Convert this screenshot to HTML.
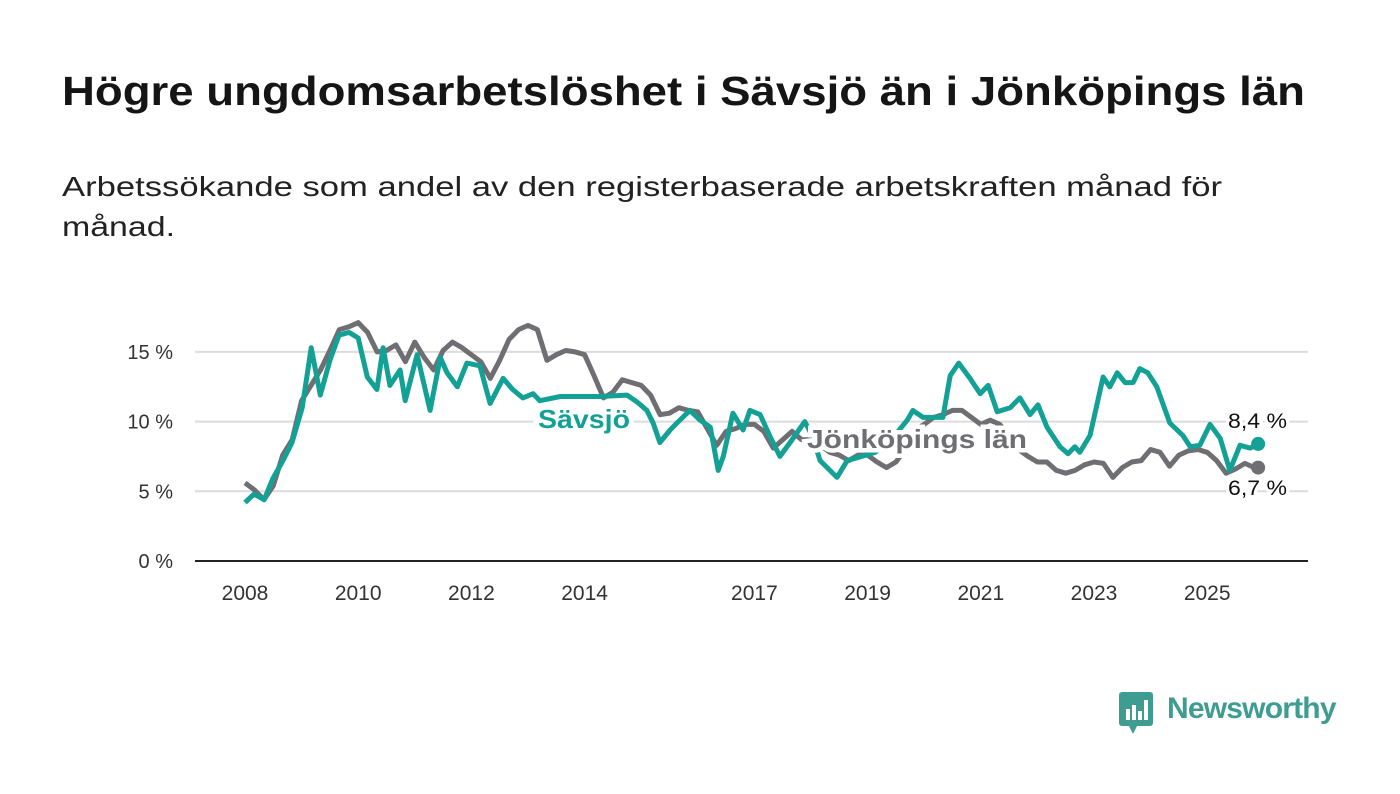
<!DOCTYPE html>
<html><head><meta charset="utf-8"><style>
body{margin:0;width:1400px;height:794px;background:#fff;font-family:"Liberation Sans",sans-serif;overflow:hidden;position:relative}
svg{position:absolute;left:0;top:0}
</style></head><body>
<svg id="chart" width="1400" height="794">
<text x="62" y="105" font-size="41" font-weight="bold" fill="#151515" textLength="1243" lengthAdjust="spacingAndGlyphs" font-family="Liberation Sans">Högre ungdomsarbetslöshet i Sävsjö än i Jönköpings län</text>
<text x="62" y="196" font-size="28" fill="#222" textLength="1160" lengthAdjust="spacingAndGlyphs" font-family="Liberation Sans">Arbetssökande som andel av den registerbaserade arbetskraften månad för</text>
<text x="62" y="236" font-size="28" fill="#222" textLength="113" lengthAdjust="spacingAndGlyphs" font-family="Liberation Sans">månad.</text>
</svg>
<script>
const yTicks=[0,5,10,15];
const yTickLabels=["0 %","5 %","10 %","15 %"];
const xTicks=[2008,2010,2012,2014,2017,2019,2021,2023,2025];
const grayStart=2008;
const grayValues=[5.6,5.1,4.4,5.4,7.6,8.7,11.5,12.6,13.7,15.1,16.6,16.8,17.1,16.4,15.0,15.1,15.5,14.3,15.7,14.6,13.7,15.1,15.7,15.3,14.8,14.3,13.1,14.4,15.9,16.6,16.9,16.6,14.4,14.8,15.1,15.0,14.8,13.3,11.7,12.1,13.0,12.8,12.6,11.9,10.5,10.6,11.0,10.8,10.7,9.5,8.3,9.3,9.5,9.8,9.8,9.3,8.1,8.7,9.3,8.7,8.7,8.3,7.8,7.6,7.2,7.6,7.6,7.1,6.7,7.1,8.0,9.4,9.8,10.3,10.5,10.8,10.8,10.3,9.8,10.1,9.8,9.0,8.0,7.5,7.1,7.1,6.5,6.3,6.5,6.9,7.1,7.0,6.0,6.7,7.1,7.2,8.0,7.8,6.8,7.6,7.9,8.0,7.8,7.2,6.3,6.6,7.0,6.7];
const tealYears=[2008.0,2008.16,2008.34,2008.49,2008.67,2008.83,2009.01,2009.17,2009.33,2009.5,2009.66,2009.84,2010.0,2010.16,2010.33,2010.44,2010.56,2010.74,2010.83,2011.04,2011.27,2011.45,2011.57,2011.75,2011.92,2012.15,2012.33,2012.56,2012.73,2012.91,2013.09,2013.21,2013.57,2013.92,2014.27,2014.75,2014.93,2015.1,2015.21,2015.33,2015.51,2015.63,2015.86,2016.04,2016.22,2016.36,2016.45,2016.62,2016.8,2016.92,2017.1,2017.28,2017.45,2017.63,2017.89,2018.02,2018.16,2018.46,2018.64,2018.81,2019.13,2019.4,2019.7,2019.8,2019.98,2020.1,2020.33,2020.46,2020.61,2020.81,2020.99,2021.13,2021.29,2021.52,2021.69,2021.87,2022.01,2022.17,2022.4,2022.54,2022.66,2022.75,2022.93,2023.16,2023.28,2023.41,2023.55,2023.69,2023.81,2023.95,2024.11,2024.34,2024.57,2024.7,2024.87,2025.05,2025.23,2025.4,2025.58,2025.76,2025.9];
const tealValues=[4.2,4.8,4.4,5.9,7.2,8.5,11.0,15.3,11.9,14.4,16.2,16.4,16.0,13.2,12.3,15.3,12.6,13.7,11.5,14.8,10.8,14.6,13.5,12.5,14.2,14.0,11.3,13.1,12.3,11.7,12.0,11.5,11.8,11.8,11.8,11.9,11.4,10.8,9.9,8.5,9.4,9.9,10.8,10.1,9.6,6.5,7.5,10.6,9.4,10.8,10.5,8.9,7.5,8.5,10.0,9.0,7.2,6.0,7.2,7.4,7.8,8.6,10.1,10.8,10.3,10.3,10.3,13.3,14.2,13.1,12.0,12.6,10.7,11.0,11.7,10.5,11.2,9.6,8.2,7.7,8.2,7.8,9.0,13.2,12.5,13.5,12.8,12.8,13.8,13.5,12.5,9.9,9.0,8.2,8.3,9.8,8.8,6.5,8.3,8.1,8.4];
const X=y=>245+(y-2008)*56.6;
const Y=v=>561-v*13.94;
const svg=document.getElementById('chart');
const NS='http://www.w3.org/2000/svg';
function mk(t,a){const e=document.createElementNS(NS,t);for(const k in a)e.setAttribute(k,a[k]);svg.appendChild(e);return e;}
yTicks.forEach((v,i)=>{
  if(v>0){const g=mk('line',{x1:195,x2:1308,y1:Y(v),y2:Y(v),stroke:'#dcdcdc','stroke-width':2});
  
  }
  const t=mk('text',{x:173,y:Y(v)+7,'text-anchor':'end','font-size':20,fill:'#333','font-family':'Liberation Sans'});
  t.textContent=yTickLabels[i];
  
  
});
const ax=mk('line',{x1:195,x2:1308,y1:Y(0),y2:Y(0),stroke:'#222','stroke-width':2});


xTicks.forEach(y=>{
  const t=mk('text',{x:X(y),y:600,'text-anchor':'middle','font-size':21,fill:'#333','font-family':'Liberation Sans'});
  t.textContent=y;
  
  
});
const gp=grayValues.map((v,i)=>X(grayStart+i/6).toFixed(1)+','+Y(v).toFixed(1)).join(' ');
const gl=mk('polyline',{points:gp,fill:'none',stroke:'#6f6e73','stroke-width':5,'stroke-linejoin':'round'});


const tp=tealValues.map((v,i)=>X(tealYears[i]).toFixed(1)+','+Y(v).toFixed(1)).join(' ');
const tl=mk('polyline',{points:tp,fill:'none',stroke:'#13a195','stroke-width':5,'stroke-linejoin':'round'});


const gLast=grayValues[grayValues.length-1], tLast=tealValues[tealValues.length-1];
const gd=mk('circle',{cx:X(2025.9),cy:Y(gLast),r:7,fill:'#6f6e73'});


const td=mk('circle',{cx:X(2025.9),cy:Y(tLast),r:7,fill:'#13a195'});


function lab(txt,x,y,fill,bold,name,len){
  const t=mk('text',{x:x,y:y,'font-size':bold?26:21,'font-weight':bold?'bold':'normal',fill:fill,stroke:'#fff','stroke-width':bold?9:6,'paint-order':'stroke',textLength:len,lengthAdjust:'spacingAndGlyphs','font-family':'Liberation Sans'});
  t.textContent=txt;
  
  
}
lab('Sävsjö',538,428,'#13a195',true,'savsjo-label',92);
lab('Jönköpings län',807,448,'#6f6e73',true,'jonkopings-label',220);
lab(tLast.toFixed(1).replace('.',',')+' %',1228,428,'#111',false,'savsjo-value-label',59);
lab(gLast.toFixed(1).replace('.',',')+' %',1228,495,'#111',false,'jonkopings-value-label',59);
</script>
<div style="position:absolute;left:1119px;top:692px;height:42px;display:flex;align-items:center">
<svg width="36" height="42" style="position:static" viewBox="0 0 36 42"><rect x="0" y="0" width="34" height="34" rx="3" fill="#3e9c90"/><path d="M10 34 L14 42 L18 34Z" fill="#3e9c90"/><rect x="7" y="17" width="4" height="11" fill="#fff"/><rect x="13" y="13" width="4" height="15" fill="#fff"/><rect x="19" y="19" width="4" height="9" fill="#fff"/><rect x="25" y="8" width="4" height="20" fill="#fff"/></svg>
<span style="font-size:30px;color:#3e9c90;margin-left:12px;font-weight:bold;margin-top:-8px;letter-spacing:-0.8px">Newsworthy</span></div>
</body></html>
